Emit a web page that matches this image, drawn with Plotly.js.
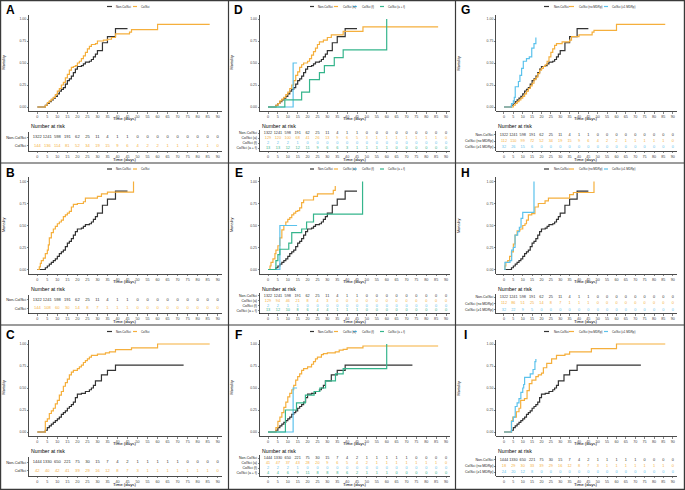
<!DOCTYPE html>
<html><head><meta charset="utf-8">
<script src="https://cdn.plot.ly/plotly-3.0.1.min.js"></script>
<style>html,body{margin:0;padding:0;background:#fff}#chart{width:685px;height:490px}</style>
</head><body><div id="chart"></div>
<script>
// ---------- DATA ----------
const riskTimes = [0,5,10,15,20,25,30,35,40,45,50,55,60,65,70,75,80,85,90];

const nonA_t = [0,4,5,6,7,8,9,10,11,12,13,14,15,16,17,18,19,20,22,23,24,26,27,28,29,30,32.5,35,39,45];
const nonA_y = [0,0.02,0.04,0.06,0.08,0.10,0.12,0.15,0.18,0.20,0.22,0.26,0.30,0.32,0.35,0.39,0.43,0.46,0.47,0.49,0.51,0.52,0.54,0.57,0.60,0.64,0.73,0.80,0.89,0.89];
const nonC_t = [0,4,5,6,7,8,9,10,11,12,13,14,15,16,17,18,19,20,22,24,26,27,28,29,32,35,39,73];
const nonC_y = [0,0.02,0.05,0.07,0.09,0.11,0.13,0.15,0.17,0.20,0.22,0.24,0.27,0.29,0.31,0.34,0.39,0.43,0.44,0.46,0.48,0.50,0.53,0.58,0.65,0.70,0.76,0.76];

const colA_t = [0,4,5,6,7,8,9,10,11,12,13,14,15,16,17,18,19,20,21,22,23,24,25,26,27,29,30,33,35,37,39,46,47,60,86];
const colA_y = [0,0.02,0.05,0.07,0.09,0.11,0.14,0.18,0.21,0.25,0.28,0.33,0.37,0.42,0.45,0.46,0.47,0.50,0.52,0.55,0.58,0.62,0.66,0.69,0.71,0.72,0.75,0.76,0.77,0.79,0.83,0.85,0.88,0.94,0.94];
const colB_t = [0,1,1.5,2,3,4,5,5.5,6,7,8,9,10,11,12,13,14,15,16,17,18,20,23,24,30,32,35,48];
const colB_y = [0,0.03,0.07,0.10,0.13,0.18,0.22,0.28,0.36,0.42,0.46,0.49,0.52,0.54,0.56,0.60,0.62,0.64,0.66,0.71,0.74,0.75,0.77,0.81,0.83,0.86,0.88,1.0];
const colC_t = [0,4,5,6,7,8,9,10,11,12,13,14,15,16,17,18,20,21,22,23,24,25,26,27,30,34,36,39,47,60,86];
const colC_y = [0,0.12,0.15,0.21,0.24,0.27,0.32,0.36,0.42,0.46,0.52,0.56,0.60,0.65,0.68,0.70,0.72,0.74,0.76,0.79,0.81,0.83,0.85,0.87,0.885,0.90,0.91,0.935,0.955,1.0,1.0];

const colDa_t = [0,4,5,6,7,8,9,10,11,12,13,14,15,16,17,18,20,21,22,23,24,25,26,28,30,32,38,48,86];
const colDa_y = [0,0.02,0.04,0.07,0.09,0.11,0.14,0.17,0.21,0.25,0.30,0.36,0.40,0.45,0.48,0.50,0.52,0.55,0.59,0.63,0.67,0.71,0.74,0.76,0.79,0.82,0.86,0.91,0.91];
const colDf_t = [0,12.7,14.7];
const colDf_y = [0,0.5,0.5];
const colDaf_t = [0,8.5,17,21,26,28.5,33.5,38,60];
const colDaf_y = [0,0.08,0.17,0.31,0.39,0.47,0.56,0.65,1.0];

const colEa_t = [0,1,1.5,2.5,3.5,4,5,6,7,8,9,10,11,12,13,14,15,16,17,18,23,25,33,34];
const colEa_y = [0,0.04,0.08,0.12,0.18,0.22,0.27,0.36,0.45,0.50,0.54,0.57,0.59,0.62,0.64,0.66,0.67,0.70,0.76,0.79,0.83,0.86,0.90,0.95];
const colEf_t = [0,6,14.7];
const colEf_y = [0,0.5,0.5];
const colEaf_t = [0,4,5,6,10.5,12,17,19.5,23,47.8];
const colEaf_y = [0,0.10,0.17,0.23,0.30,0.42,0.46,0.54,0.63,1.0];

const colFa_t = [0,4,5,6,7,8,9,10,11,12,13,14,15,16,17,18,20,22,23,24,25,27,28,30,34,36,38,40,48,86];
const colFa_y = [0,0.05,0.12,0.17,0.22,0.28,0.34,0.40,0.44,0.48,0.53,0.59,0.63,0.66,0.70,0.72,0.74,0.77,0.80,0.83,0.85,0.88,0.89,0.90,0.91,0.93,0.94,0.955,0.977,0.977];
const colFf_t = [0,12.7,14.7];
const colFf_y = [0,0.5,0.5];
const colFaf_t = [0,8.8,14.4,18.9,23.3,26.2,29.1,34.1,38,60];
const colFaf_y = [0,0.25,0.33,0.42,0.46,0.50,0.58,0.66,0.72,1.0];

const colGno_t = [0,5,6,7,8,9,10,11,12,13,14,15,16,17,18,19,20,21,22,23,24,25,26,27,28,31,35,36,40,47,48,60,86];
const colGno_y = [0,0.02,0.04,0.06,0.08,0.10,0.12,0.15,0.18,0.21,0.24,0.27,0.31,0.34,0.38,0.42,0.44,0.46,0.48,0.52,0.57,0.62,0.66,0.70,0.72,0.74,0.76,0.80,0.82,0.85,0.87,0.94,0.94];
const colGmdr_t = [0,4,5,5.5,6,7.7,8.5,9.4,10.3,12,13.5,14.8,16,17];
const colGmdr_y = [0,0.04,0.07,0.11,0.23,0.29,0.36,0.44,0.52,0.55,0.57,0.67,0.72,0.79];

const colHno_t = [0,0.5,1,2,3,4,5,5.9,7,8.5,10,11.2,12,13,14.8,16.5,18.3,21.9,23.7,35,37,48];
const colHno_y = [0,0.04,0.08,0.10,0.15,0.20,0.29,0.39,0.44,0.46,0.50,0.52,0.56,0.62,0.635,0.71,0.75,0.78,0.81,0.85,0.875,1.0];
const colHmdr_t = [0,0.5,3.2,4.1,5,5.9,7.3,8.2,9.1,10,16];
const colHmdr_y = [0,0.08,0.10,0.22,0.25,0.39,0.43,0.48,0.58,0.65,1.0];

const colIno_t = [0,4,4.7,6.6,8,8.9,10.9,12.3,13.5,14.9,17,18.3,20,21,22.8,25.4,28,32.5,35,46.6,60,86];
const colIno_y = [0,0.126,0.17,0.23,0.27,0.36,0.38,0.47,0.55,0.59,0.63,0.65,0.67,0.73,0.78,0.83,0.87,0.885,0.91,0.947,1.0,1.0];
const colImdr_t = [0,4,5,6,7,8,9,10,10.5,11,14,15.5,16.5,17];
const colImdr_y = [0,0.12,0.17,0.29,0.33,0.38,0.45,0.50,0.54,0.62,0.66,0.71,0.80,0.83];

// numbers at risk
const riskNon1 = [1322,1241,598,191,62,25,11,4,1,1,0,0,0,0,0,0,0,0,0];
const riskNon2 = [1444,1330,650,221,75,30,15,7,4,2,1,1,1,1,1,0,0,0,0];
const riskA_col = [144,136,114,81,52,34,19,15,9,6,4,2,2,1,1,1,1,1,0];
const riskB_col = [144,108,60,30,14,8,7,1,1,1,0,0,0,0,0,0,0,0,0];
const riskC_col = [42,40,42,41,39,29,16,12,8,7,3,1,1,1,1,1,1,1,0];
const riskD_a = [129,120,100,68,41,26,13,9,6,5,3,1,1,1,1,1,1,1,0];
const riskD_f = [2,2,2,1,0,0,0,0,0,0,0,0,0,0,0,0,0,0,0];
const riskD_af = [13,13,12,12,11,9,6,6,3,1,1,1,1,0,0,0,0,0,0];
const riskE_a = [129,94,46,21,8,4,3,0,0,0,0,0,0,0,0,0,0,0,0];
const riskE_f = [2,2,1,1,0,0,0,0,0,0,0,0,0,0,0,0,0,0,0];
const riskE_af = [13,12,10,8,6,4,4,1,1,1,0,0,0,0,0,0,0,0,0];
const riskF_a = [41,47,37,43,28,20,9,6,5,4,2,1,1,1,1,1,1,1,0];
const riskF_f = [2,2,2,1,0,0,0,0,0,0,0,0,0,0,0,0,0,0,0];
const riskF_af = [4,4,6,9,11,8,8,8,6,2,1,1,1,0,0,0,0,0,0];
const riskG_no = [112,110,99,72,52,34,19,15,9,6,4,2,2,1,1,1,1,1,0];
const riskG_mdr = [32,26,15,6,0,0,0,0,0,0,0,0,0,0,0,0,0,0,0];
const riskH_no = [112,86,51,25,14,8,7,1,1,1,0,0,0,0,0,0,0,0,0];
const riskH_mdr = [32,22,9,5,0,0,0,0,0,0,0,0,0,0,0,0,0,0,0];
const riskI_no = [18,29,30,33,39,29,16,12,8,7,3,1,1,1,1,1,1,1,0];
const riskI_mdr = [24,20,12,8,0,0,0,0,0,0,0,0,0,0,0,0,0,0,0];

const yTicks = [0,0.25,0.5,0.75,1];
const labels2 = ['Non-CoISci','CoISci'];
const labels4 = ['Non-CoISci','CoISci (a)','CoISci (f)','CoISci (a + f)'];
const labels3 = ['Non-CoISci','CoISci (no MDRp)','CoISci (\u22651 MDRp)'];

// ---------- STYLE / LAYOUT ----------
const W = 685, H = 490;
const BLACK = '#333333', ORANGE = '#F5AF3C', BLUE = '#5BC2EC', GREEN = '#35B58C';
const FONT = 'Liberation Sans, Arial, sans-serif';
const colGeom = [{ox:0, x0:29.1, x1:221.7}, {ox:228, x0:259.9, x1:450}, {ox:455, x0:496.3, x1:676.5}];
const rowOff = [0, 162.5, 325];
const legendPos = {
  2: {keys:[[107,112],[133,137]], texts:[114,139]},
  4: {keys:[[82,86],[106,110],[125,129],[152,156]], texts:[88,113,132,158]},
  3: {keys:[[89,94],[114,119],[149,153]], texts:[96.5,121.5,155]}
};
const tableTop = {2:132, 4:130.2, 3:131};

const panels = [
  {letter:'A', col:0, row:0, labels:labels2, series:[[nonA_t,nonA_y,riskNon1,BLACK],[colA_t,colA_y,riskA_col,ORANGE]]},
  {letter:'B', col:0, row:1, labels:labels2, series:[[nonA_t,nonA_y,riskNon1,BLACK],[colB_t,colB_y,riskB_col,ORANGE]]},
  {letter:'C', col:0, row:2, labels:labels2, series:[[nonC_t,nonC_y,riskNon2,BLACK],[colC_t,colC_y,riskC_col,ORANGE]]},
  {letter:'D', col:1, row:0, labels:labels4, series:[[nonA_t,nonA_y,riskNon1,BLACK],[colDa_t,colDa_y,riskD_a,ORANGE],[colDf_t,colDf_y,riskD_f,BLUE],[colDaf_t,colDaf_y,riskD_af,GREEN]]},
  {letter:'E', col:1, row:1, labels:labels4, series:[[nonA_t,nonA_y,riskNon1,BLACK],[colEa_t,colEa_y,riskE_a,ORANGE],[colEf_t,colEf_y,riskE_f,BLUE],[colEaf_t,colEaf_y,riskE_af,GREEN]]},
  {letter:'F', col:1, row:2, labels:labels4, series:[[nonC_t,nonC_y,riskNon2,BLACK],[colFa_t,colFa_y,riskF_a,ORANGE],[colFf_t,colFf_y,riskF_f,BLUE],[colFaf_t,colFaf_y,riskF_af,GREEN]]},
  {letter:'G', col:2, row:0, labels:labels3, series:[[nonA_t,nonA_y,riskNon1,BLACK],[colGno_t,colGno_y,riskG_no,ORANGE],[colGmdr_t,colGmdr_y,riskG_mdr,BLUE]]},
  {letter:'H', col:2, row:1, labels:labels3, series:[[nonA_t,nonA_y,riskNon1,BLACK],[colHno_t,colHno_y,riskH_no,ORANGE],[colHmdr_t,colHmdr_y,riskH_mdr,BLUE]]},
  {letter:'I', col:2, row:2, labels:labels3, series:[[nonC_t,nonC_y,riskNon2,BLACK],[colIno_t,colIno_y,riskI_no,ORANGE],[colImdr_t,colImdr_y,riskI_mdr,BLUE]]}
];

const px = x => x / W;
const py = y => 1 - y / H;

const traces = [];
const layout = {
  width: W, height: H, margin:{l:0,r:0,t:0,b:0},
  paper_bgcolor:'#fff', plot_bgcolor:'rgba(0,0,0,0)',
  font:{family:FONT, color:'#000'},
  showlegend:false, annotations:[], shapes:[]
};

function axName(k, letter){ return k === 1 ? letter + 'axis' : letter + 'axis' + k; }
function axRef(k, letter){ return k === 1 ? letter : letter + k; }

const baseAxis = {
  showline:true, linecolor:'#000', linewidth:0.7, ticks:'outside', ticklen:1.5, tickwidth:0.6,
  tickcolor:'#333', showgrid:false, zeroline:false, fixedrange:true, automargin:false,
  tickfont:{size:3.7, color:'#444', family:FONT}
};

panels.forEach((p, i) => {
  const g = colGeom[p.col];
  const off = rowOff[p.row];
  const n = p.series.length;
  const kP = 2*i + 1, kT = 2*i + 2;
  const xd = [px(g.x0), px(g.x1)];
  layout[axName(kP,'x')] = Object.assign({}, baseAxis, {domain:xd, range:[-4.1,92], anchor:axRef(kP,'y'), tickvals:riskTimes});
  layout[axName(kP,'y')] = Object.assign({}, baseAxis, {domain:[py(off+111.4), py(off+14.6)], range:[-0.05,1.05], anchor:axRef(kP,'x'), tickvals:yTicks, tickformat:'.2f', tickfont:{size:3.5, color:'#444', family:FONT}});
  const tTop = off + tableTop[n];
  layout[axName(kT,'x')] = Object.assign({}, baseAxis, {domain:xd, range:[-4.1,92], anchor:axRef(kT,'y'), tickvals:riskTimes});
  const rowIdx = p.labels.map((_, r) => n - 1 - r);
  layout[axName(kT,'y')] = Object.assign({}, baseAxis, {domain:[py(off+151), py(tTop)], range:[-0.6, n - 1 + 0.6], anchor:axRef(kT,'x'), tickvals:rowIdx, ticktext:p.labels, tickfont:{size:(n === 2 ? 3.9 : 3.5), color:'#222', family:FONT}});

  p.series.forEach((s, r) => {
    traces.push({type:'scatter', mode:'lines', x:s[0], y:s[1], xaxis:axRef(kP,'x'), yaxis:axRef(kP,'y'),
      line:{color:s[3], width:1.2, shape:'hv'}, hoverinfo:'skip', cliponaxis:false});
    traces.push({type:'scatter', mode:'text', x:riskTimes, y:riskTimes.map(() => n - 1 - r), text:s[2].map(String),
      xaxis:axRef(kT,'x'), yaxis:axRef(kT,'y'), textfont:{size:(n === 2 ? 4.1 : 3.8), color:s[3], family:FONT}, textposition:'middle center', hoverinfo:'skip', cliponaxis:false});
  });

  const lp = legendPos[n];
  p.labels.forEach((lab, r) => {
    const k = lp.keys[r];
    layout.shapes.push({type:'line', xref:'paper', yref:'paper', x0:px(g.ox+k[0]), x1:px(g.ox+k[1]), y0:py(off+6.5), y1:py(off+6.5), line:{color:p.series[r][3], width:1.2}});
    layout.annotations.push({xref:'paper', yref:'paper', x:px(g.ox+lp.texts[r]), y:py(off+6.5), text:lab, showarrow:false, xanchor:'left', yanchor:'middle', font:{size:2.9, color:'#222', family:FONT}});
  });

  const cx = px((g.x0 + g.x1)/2);
  layout.annotations.push({xref:'paper', yref:'paper', x:px(g.ox+10.5), y:py(off+10), text:'<b>'+p.letter+'</b>', showarrow:false, xanchor:'center', yanchor:'middle', font:{size:12, color:'#000', family:FONT}});
  layout.annotations.push({xref:'paper', yref:'paper', x:cx, y:py(off+118.7), text:'Time (days)', showarrow:false, xanchor:'center', yanchor:'middle', font:{size:4.4, color:'#000', family:FONT}});
  layout.annotations.push({xref:'paper', yref:'paper', x:cx, y:py(off+159), text:'Time (days)', showarrow:false, xanchor:'center', yanchor:'middle', font:{size:4.4, color:'#000', family:FONT}});
  layout.annotations.push({xref:'paper', yref:'paper', x:px(g.ox+3.5), y:py(off+63), text:'Mortality', textangle:-90, showarrow:false, xanchor:'center', yanchor:'middle', font:{size:3.8, color:'#000', family:FONT}});
  layout.annotations.push({xref:'paper', yref:'paper', x:px(g.x0), y:py(off+126), text:'Number at risk', showarrow:false, xanchor:'left', yanchor:'middle', font:{size:5.2, color:'#000', family:FONT}});
});

const bc = '#3a3a3a';
[0.6, 228.5, 455.5, 684.4].forEach(x => layout.shapes.push({type:'line', xref:'paper', yref:'paper', x0:px(x), x1:px(x), y0:0, y1:1, line:{color:bc, width:1.2}}));
[0.6, 163, 325, 489.4].forEach(y => layout.shapes.push({type:'line', xref:'paper', yref:'paper', x0:0, x1:1, y0:py(y), y1:py(y), line:{color:bc, width:1.2}}));

Plotly.newPlot('chart', traces, layout, {staticPlot:true, displayModeBar:false});
</script></body></html>
